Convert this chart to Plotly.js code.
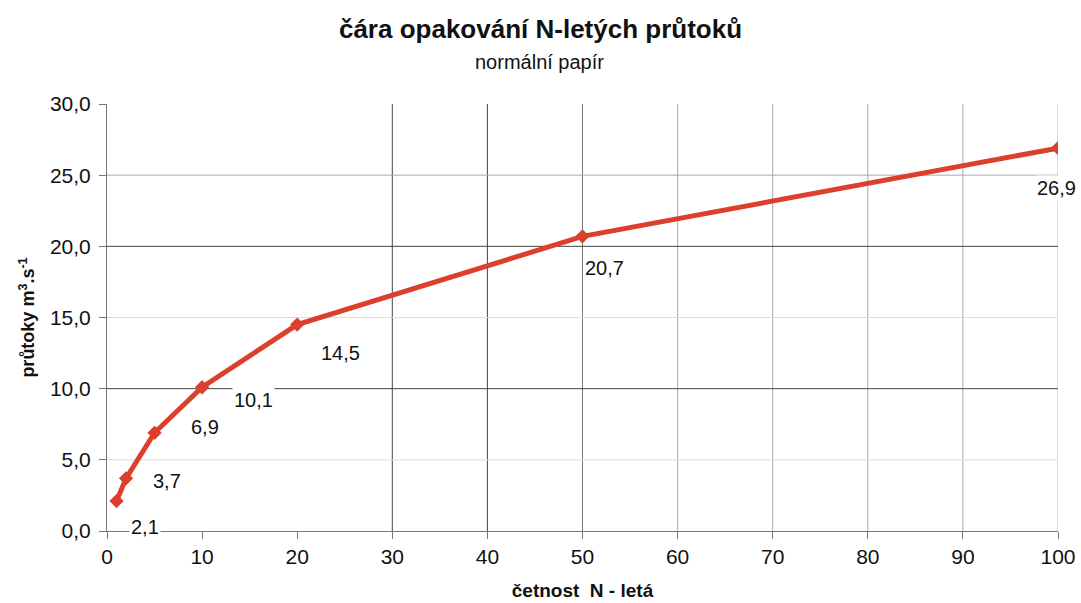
<!DOCTYPE html>
<html><head><meta charset="utf-8">
<script src="https://cdn.plot.ly/plotly-3.0.1.min.js"></script>
<style>body{margin:0;background:#fff}#c{width:1081px;height:603px}</style>
</head><body><div id="c"></div>
<script>
const returnPeriods = [1, 2, 5, 10, 20, 50, 100];
const discharges = [2.1, 3.7, 6.9, 10.1, 14.5, 20.7, 26.9];
const valueLabels = ['2,1', '3,7', '6,9', '10,1', '14,5', '20,7', '26,9'];
const xTicks = [0, 10, 20, 30, 40, 50, 60, 70, 80, 90, 100];
const yTicks = [0, 5, 10, 15, 20, 25, 30];
const yTickText = ['0,0', '5,0', '10,0', '15,0', '20,0', '25,0', '30,0'];
const vGrid = [30, 40, 50, 60, 70, 80, 90, 100];
const vGridColor = ['#444', '#444', '#777', '#aaa', '#aaa', '#aaa', '#aaa', '#bbb'];
const hGrid = [5, 10, 15, 20, 25];
const hGridColor = ['#ddd', '#444', '#ddd', '#444', '#aaa'];
// label offsets (px) relative to each point
const labShiftX = [28, 41, 50, 51, 43, 22, -2];
const labShiftY = [-26, -3, 6, -13, -28, -32, -40];

const font = 'Liberation Sans, Arial, sans-serif';
const shapes = [];
vGrid.forEach((v, i) => shapes.push({type: 'line', xref: 'x', yref: 'y', x0: v, x1: v, y0: 0, y1: 30, line: {color: vGridColor[i], width: 1}, layer: 'below'}));
hGrid.forEach((v, i) => shapes.push({type: 'line', xref: 'x', yref: 'y', x0: 0, x1: 100, y0: v, y1: v, line: {color: hGridColor[i], width: 1}, layer: 'below'}));

const annotations = returnPeriods.map((x, i) => ({
  x: x, y: discharges[i], text: valueLabels[i], showarrow: false,
  xshift: labShiftX[i], yshift: labShiftY[i], bgcolor: '#fff',
  font: {family: font, size: 20, color: '#111'}
}));
annotations.push({xref: 'paper', yref: 'paper', x: 0.455, y: 1, yanchor: 'middle', yshift: 42, text: 'normální papír', showarrow: false, font: {family: font, size: 20, color: '#111'}});

Plotly.newPlot('c', [{
  x: returnPeriods, y: discharges, type: 'scatter', mode: 'lines+markers',
  line: {color: '#dc3f2b', width: 5},
  marker: {symbol: 'diamond', size: 11, color: '#dc3f2b'}
}], {
  width: 1081, height: 603,
  margin: {l: 107, r: 23, t: 104, b: 72},
  paper_bgcolor: '#fff', plot_bgcolor: '#fff',
  showlegend: false,
  title: {text: '<b>čára opakování N-letých průtoků</b>', x: 0.5, xanchor: 'center', y: 0.952, yanchor: 'middle', font: {family: font, size: 26, color: '#111'}},
  xaxis: {range: [0, 100], tickvals: xTicks, ticktext: xTicks.map(String), showgrid: false, zeroline: false,
    showline: true, linecolor: '#777', linewidth: 1, ticks: 'outside', ticklen: 7, tickcolor: '#777',
    tickfont: {family: font, size: 21, color: '#111'},
    title: {text: '<b>četnost  N - letá</b>', font: {family: font, size: 19, color: '#111'}, standoff: 16}},
  yaxis: {range: [0, 30], tickvals: yTicks, ticktext: yTickText, showgrid: false, zeroline: false,
    showline: true, linecolor: '#777', linewidth: 1, ticks: 'outside', ticklen: 7, tickcolor: '#777',
    ticklabelstandoff: 4,
    tickfont: {family: font, size: 21, color: '#111'},
    title: {text: '<b>průtoky m<sup>3</sup>.s<sup>-1</sup></b>', font: {family: font, size: 18, color: '#111'}, standoff: 10}},
  shapes: shapes,
  annotations: annotations
}, {displayModeBar: false});
</script></body></html>
